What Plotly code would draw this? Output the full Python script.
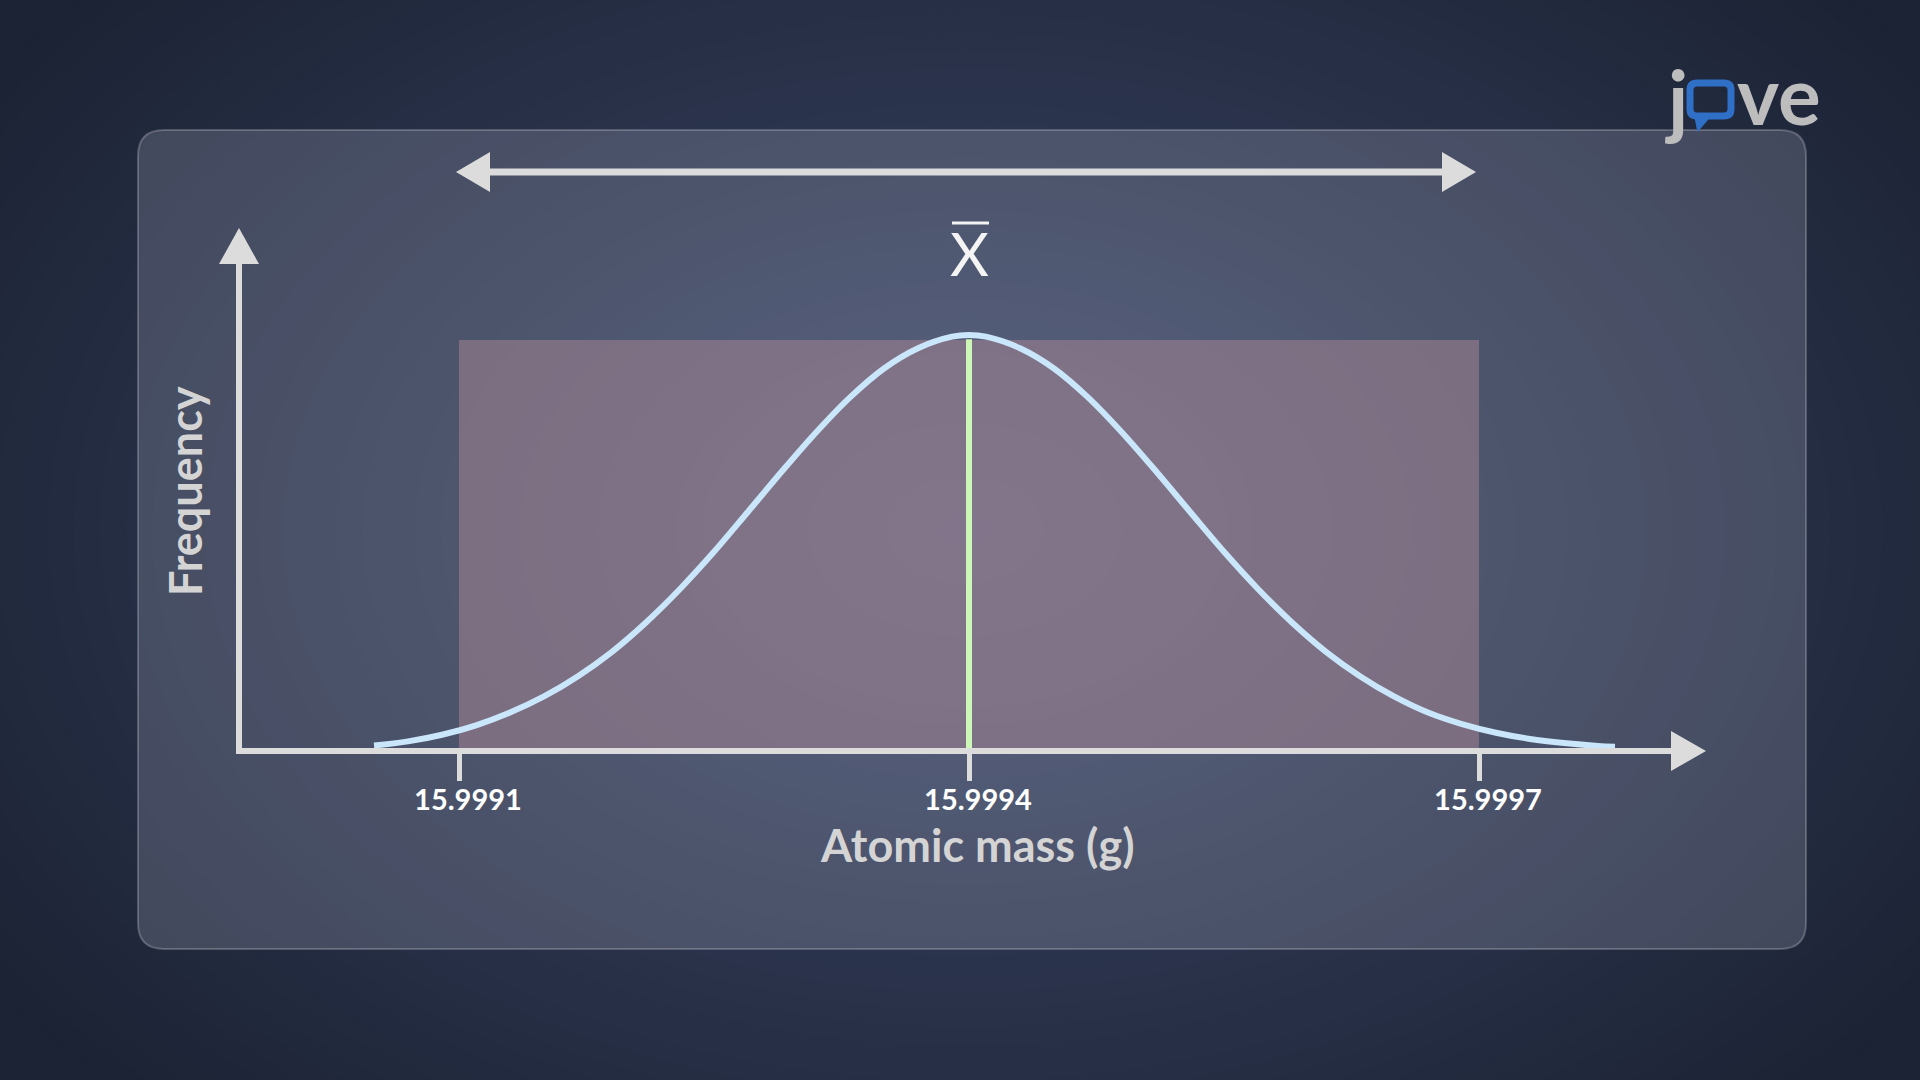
import plotly.graph_objects as go

# ---------------- data ----------------
mass = [15.99905, 15.99907, 15.99909, 15.99911, 15.99913, 15.99915, 15.99917, 15.99919,
        15.99921, 15.99923, 15.99925, 15.99927, 15.99929, 15.99931, 15.99933, 15.99935,
        15.99937, 15.99939, 15.99940, 15.99941, 15.99943, 15.99945, 15.99947, 15.99949,
        15.99951, 15.99953, 15.99955, 15.99957, 15.99959, 15.99961, 15.99963, 15.99965,
        15.99967, 15.99969, 15.99971, 15.99973, 15.99975, 15.99977, 15.99978]
freq = [0.006, 0.016, 0.032, 0.055, 0.086, 0.125, 0.174, 0.233,
        0.304, 0.385, 0.475, 0.572, 0.670, 0.764, 0.849, 0.919,
        0.968, 0.996, 1.000, 0.996, 0.968, 0.919, 0.849, 0.764,
        0.670, 0.572, 0.475, 0.385, 0.304, 0.233, 0.174, 0.125,
        0.086, 0.058, 0.037, 0.022, 0.012, 0.005, 0.003]
tick_vals = [15.9991, 15.9994, 15.9997]
tick_text = ["15.9991", "15.9994", "15.9997"]
mean_mass = 15.9994
mean_top = 0.99
band_range = [15.9991, 15.9997]
band_top = 0.988

x_title = "Atomic mass (g)"
y_title = "Frequency"
mean_label = "X"

# ---------------- layout geometry ----------------
FIG_W, FIG_H = 1920, 1080
L, R, T, B = 242, 248, 263, 332
PW = FIG_W - L - R
PH = FIG_H - T - B
px_per_unit = (1479 - 459) / (tick_vals[2] - tick_vals[0])
x_lo = tick_vals[0] - (459 - L) / px_per_unit
x_hi = x_lo + PW / px_per_unit
y_px_per_unit = (FIG_H - B) - 335
y_hi = PH / y_px_per_unit


def ppx(px):
    return (px - L) / PW


def ppy(py):
    return (FIG_H - B - py) / PH


AXIS_COL = "#dcdcdc"
shapes = []

# background radial gradient (concentric ellipses)
edge = (28, 35, 53)
center = (60, 72, 104)
N = 45
for i in range(N):
    f = 1.0 - i / N
    rx, ry = 1180 * f, 800 * f
    c = tuple(int(round(edge[k] + (center[k] - edge[k]) * (1 - f))) for k in range(3))
    shapes.append(dict(type="circle", xref="paper", yref="paper",
                       x0=ppx(965 - rx), x1=ppx(965 + rx), y0=ppy(530 + ry), y1=ppy(530 - ry),
                       fillcolor="rgb(%d,%d,%d)" % c, line=dict(width=0), layer="below"))


def rrect(x0, y0, x1, y1, r):
    X = ppx
    Y = ppy
    return ("M %f,%f L %f,%f Q %f,%f %f,%f L %f,%f Q %f,%f %f,%f L %f,%f Q %f,%f %f,%f "
            "L %f,%f Q %f,%f %f,%f Z") % (
        X(x0 + r), Y(y0), X(x1 - r), Y(y0), X(x1), Y(y0), X(x1), Y(y0 + r),
        X(x1), Y(y1 - r), X(x1), Y(y1), X(x1 - r), Y(y1),
        X(x0 + r), Y(y1), X(x0), Y(y1), X(x0), Y(y1 - r),
        X(x0), Y(y0 + r), X(x0), Y(y0), X(x0 + r), Y(y0))


# panel
shapes.append(dict(type="path", xref="paper", yref="paper", path=rrect(138, 130, 1806, 949, 26),
                   fillcolor="rgba(235,240,255,0.17)", line=dict(color="rgba(255,255,255,0.22)", width=2),
                   layer="below"))

# band rectangle
shapes.append(dict(type="rect", xref="x", yref="y", x0=band_range[0], x1=band_range[1], y0=0, y1=band_top,
                   fillcolor="rgba(172,136,150,0.5)", line=dict(width=0), layer="below"))

# axis arrowheads
shapes.append(dict(type="path", xref="paper", yref="paper",
                   path="M %f,%f L %f,%f L %f,%f Z" % (ppx(239), ppy(228), ppx(219), ppy(264), ppx(259), ppy(264)),
                   fillcolor=AXIS_COL, line=dict(width=0)))
shapes.append(dict(type="path", xref="paper", yref="paper",
                   path="M %f,%f L %f,%f L %f,%f Z" % (ppx(1706), ppy(751), ppx(1671), ppy(731), ppx(1671), ppy(771)),
                   fillcolor=AXIS_COL, line=dict(width=0)))

# double arrow above band
arrow_y = ppy(172)
shaft_off = 30 / px_per_unit
shapes.append(dict(type="line", xref="x", yref="paper", x0=band_range[0] + shaft_off, x1=band_range[1] - shaft_off,
                   y0=arrow_y, y1=arrow_y, line=dict(color=AXIS_COL, width=7)))
for xa, s in ((band_range[0], 1), (band_range[1], -1)):
    tip = -3
    shapes.append(dict(type="path", xref="x", yref="paper", xsizemode="pixel", xanchor=xa,
                       path="M %f,%f L %f,%f L %f,%f Z" % (tip, arrow_y, tip + 34 * s, ppy(152), tip + 34 * s, ppy(192)),
                       fillcolor=AXIS_COL, line=dict(width=0)))

# overline of x-bar
shapes.append(dict(type="line", xref="x", yref="paper", xsizemode="pixel", xanchor=mean_mass,
                   x0=-17, x1=20, y0=ppy(223), y1=ppy(223), line=dict(color="#f2f2f2", width=3)))

# logo speech bubble
bx0, by0, bx1, by1, br = 1690, 83, 1731, 116, 7
shapes.append(dict(type="path", xref="paper", yref="paper", path=rrect(bx0, by0, bx1, by1, br),
                   fillcolor="rgba(0,0,0,0)", line=dict(color="#2f6fc6", width=7)))
shapes.append(dict(type="path", xref="paper", yref="paper",
                   path="M %f,%f L %f,%f L %f,%f Z" % (ppx(1695), ppy(115), ppx(1711), ppy(115), ppx(1698), ppy(130)),
                   fillcolor="#2f6fc6", line=dict(color="#2f6fc6", width=2)))

fig = go.Figure()
fig.add_trace(go.Scatter(x=[mean_mass, mean_mass], y=[0, mean_top], mode="lines",
                         line=dict(color="#cdf7b6", width=6), hoverinfo="skip", showlegend=False))
fig.add_trace(go.Scatter(x=mass, y=freq, mode="lines", line=dict(color="#c9e6fa", width=6, shape="spline"),
                         hoverinfo="skip", showlegend=False, cliponaxis=False))


def ann(text, x, y, size, color, weight="bold", xref="paper", angle=0):
    return dict(text=text, xref=xref, yref="paper", x=x, y=y, showarrow=False, textangle=angle,
                xanchor="center", yanchor="middle",
                font=dict(family="Lato", size=size, color=color, weight=weight))


annotations = [
    ann(x_title, ppx(977), ppy(845), 45, "#d4d4d4"),
    ann(y_title, ppx(185), ppy(491), 45, "#d4d4d4", angle=-90),
    ann(mean_label, mean_mass, ppy(253), 60, "#f4f4f4", weight="normal", xref="x"),
    ann("j", ppx(1676), ppy(98), 80, "#bdbdbd"),
    ann("ve", ppx(1779), ppy(94), 80, "#bdbdbd"),
]

fig.update_layout(
    width=FIG_W, height=FIG_H, autosize=False,
    margin=dict(l=L, r=R, t=T, b=B, pad=0),
    paper_bgcolor="rgb(%d,%d,%d)" % edge, plot_bgcolor="rgba(0,0,0,0)",
    shapes=shapes, annotations=annotations, showlegend=False,
    xaxis=dict(range=[x_lo, x_hi], showgrid=False, zeroline=False, showline=True, linecolor=AXIS_COL,
               linewidth=6, ticks="outside", ticklen=27, tickwidth=5, tickcolor=AXIS_COL,
               tickvals=tick_vals, ticktext=tick_text, ticklabelshift=9, ticklabelstandoff=-6,
               tickfont=dict(family="Lato", size=29, color="#ffffff", weight="bold")),
    yaxis=dict(range=[0, y_hi], showgrid=False, zeroline=False, showline=True, linecolor=AXIS_COL,
               linewidth=6, showticklabels=False, ticks=""),
)

fig.write_html("out.html", config={"displayModeBar": False},
               post_script="document.body.style.margin='0';document.body.style.overflow='hidden';")
